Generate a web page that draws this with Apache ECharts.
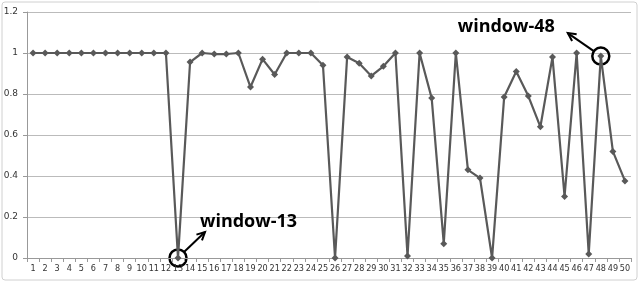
<!DOCTYPE html>
<html><head><meta charset="utf-8">
<script src="https://cdn.jsdelivr.net/npm/echarts@6/dist/echarts.min.js"></script>
<style>html,body{margin:0;padding:0;background:#fff}#c{width:640px;height:283px}</style>
</head><body><div id="c"></div>
<script>
const categories = Array.from({length:50},(_,i)=>String(i+1));
const values = [1,1,1,1,1,1,1,1,1,1,1,1,0,0.956,1,0.995,0.995,1,0.834,0.97,0.895,1,1,1,0.94,0,0.98,0.95,0.888,0.935,1,0.01,1,0.78,0.07,1,0.43,0.39,0,0.785,0.91,0.79,0.64,0.98,0.3,1,0.02,0.985,0.52,0.376];
const yTicks = [0,0.2,0.4,0.6,0.8,1,1.2];
const annotations = [{idx:12,label:'window-13'},{idx:47,label:'window-48'}];

const chart = echarts.init(document.getElementById('c'));
chart.setOption({
  animation:false,
  grid:{left:27,right:9,top:12,bottom:25},
  xAxis:{type:'category',data:categories,boundaryGap:true,
    axisLine:{lineStyle:{color:'#999',width:1}},
    axisTick:{show:true,length:4,lineStyle:{color:'#999'}},
    axisLabel:{fontSize:9,color:'#333',interval:0,margin:6,fontFamily:'DejaVu Sans Condensed, sans-serif'}},
  yAxis:{type:'value',min:0,max:1.2,interval:0.2,
    axisLine:{show:true,lineStyle:{color:'#999'}},
    axisTick:{show:true,length:4,lineStyle:{color:'#999'}},
    splitLine:{lineStyle:{color:'#bbb',width:1}},
    axisLabel:{fontSize:9,color:'#333',margin:9,fontFamily:'DejaVu Sans, sans-serif',
      formatter:v=>{const t=yTicks.find(x=>Math.abs(x-v)<1e-6);return t===undefined?'':String(t);}}},
  series:[{type:'line',data:values,symbol:'diamond',symbolSize:7,
    lineStyle:{color:'#595959',width:2.2},itemStyle:{color:'#595959'}}]
});

const g=[{type:'rect',shape:{x:2,y:2,width:635,height:278,r:3},style:{fill:'none',stroke:'#d0d0d0',lineWidth:1},silent:true}];
function arrow(x1,y1,x2,y2){
  const a=Math.atan2(y2-y1,x2-x1),L=8,W=4;
  g.push({type:'line',shape:{x1,y1,x2,y2},style:{stroke:'#000',lineWidth:2}});
  g.push({type:'polyline',shape:{points:[[x2-L*Math.cos(a)+W*Math.sin(a),y2-L*Math.sin(a)-W*Math.cos(a)],[x2,y2],[x2-L*Math.cos(a)-W*Math.sin(a),y2-L*Math.sin(a)+W*Math.cos(a)]]},style:{stroke:'#000',lineWidth:2,fill:'none'}});
}
annotations.forEach((an,k)=>{
  const p=chart.convertToPixel({seriesIndex:0},[an.idx,values[an.idx]]);
  g.push({type:'circle',shape:{cx:p[0],cy:p[1],r:8.5},style:{fill:'none',stroke:'#000',lineWidth:2.5}});
  if(k===0){
    arrow(p[0]+6,p[1]-6,p[0]+27,p[1]-26);
    g.push({type:'text',style:{x:p[0]+22,y:p[1]-36,text:an.label,font:'bold 18px "Open Sans", sans-serif',fill:'#000',textVerticalAlign:'middle'}});
  } else {
    arrow(p[0]-7,p[1]-5,p[0]-33,p[1]-23);
    g.push({type:'text',style:{x:p[0]-46,y:p[1]-29,text:an.label,font:'bold 18px "Open Sans", sans-serif',fill:'#000',align:'right',textVerticalAlign:'middle'}});
  }
});
chart.setOption({graphic:g});
</script></body></html>
